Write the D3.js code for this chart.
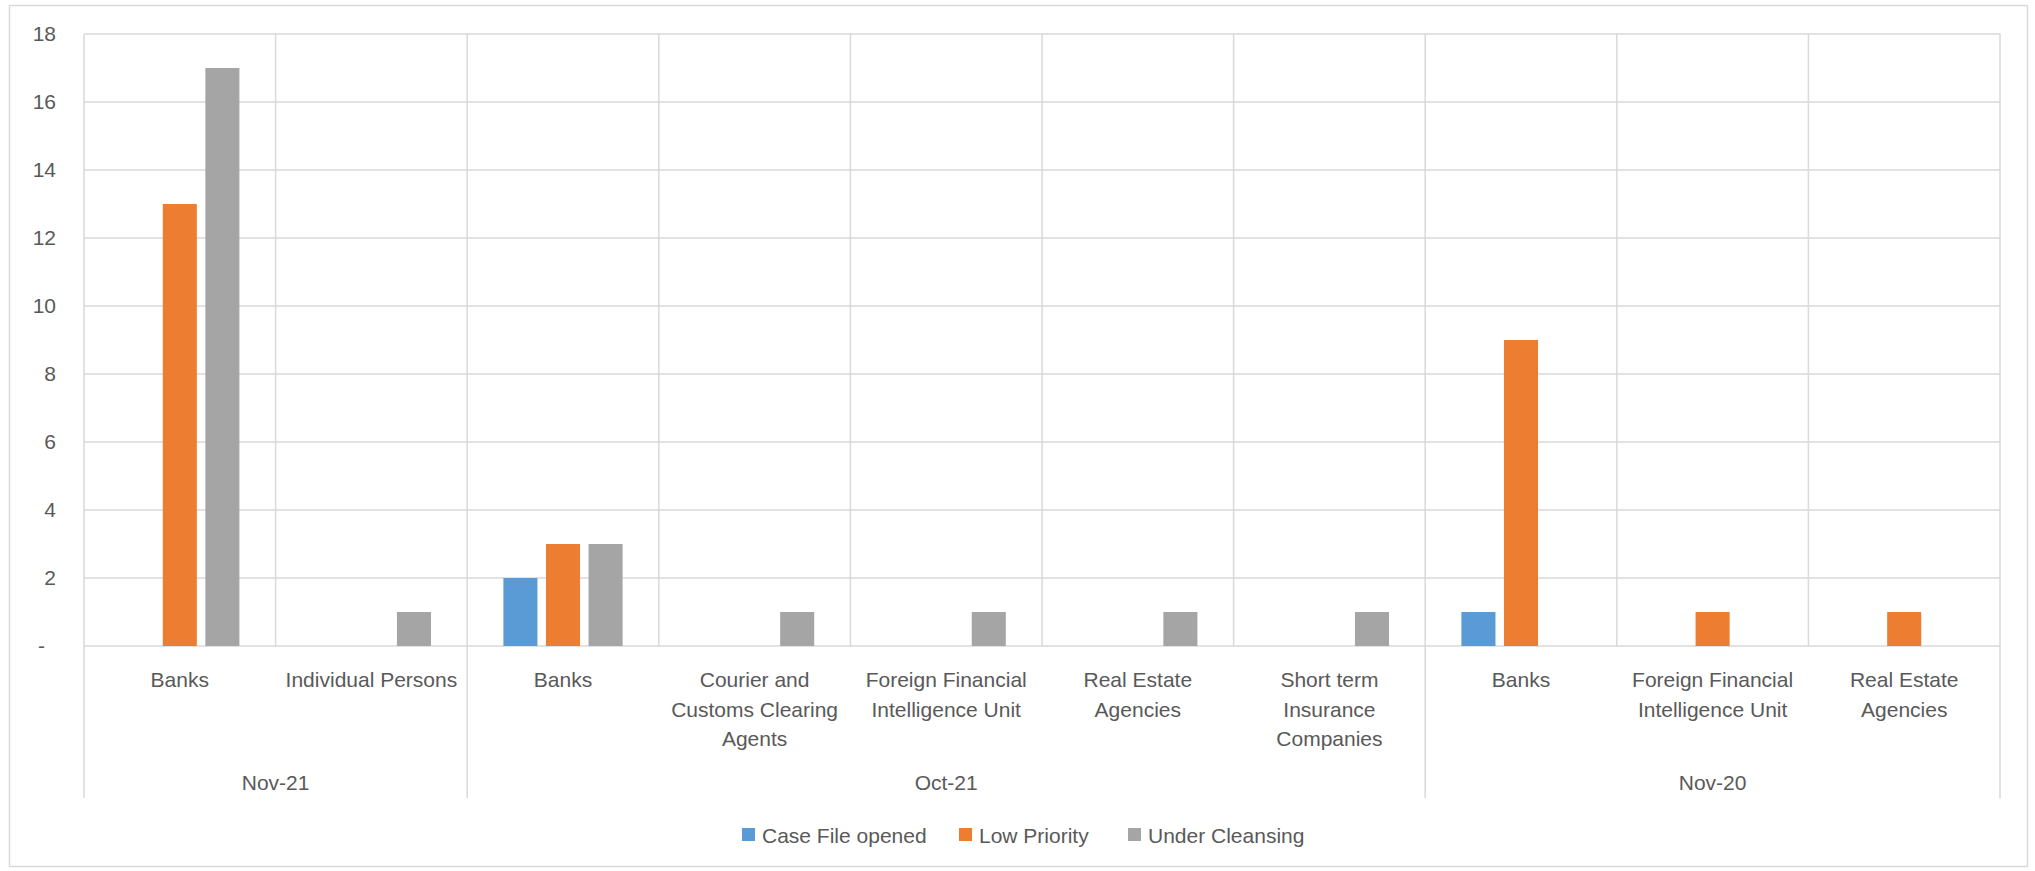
<!DOCTYPE html>
<html>
<head>
<meta charset="utf-8">
<script src="https://cdn.jsdelivr.net/npm/d3@7"></script>
<style>
  body { margin: 0; background: #fff; }
  svg text { font-family: "Liberation Sans", Arial, sans-serif; fill: #595959; }
</style>
</head>
<body>
<svg width="2035" height="871"></svg>
<script>
// data
const groups = ["Nov-21", "Oct-21", "Nov-20"];
const categories = [
  { group: "Nov-21", name: "Banks" },
  { group: "Nov-21", name: "Individual Persons" },
  { group: "Oct-21", name: "Banks" },
  { group: "Oct-21", name: "Courier and Customs Clearing Agents" },
  { group: "Oct-21", name: "Foreign Financial Intelligence Unit" },
  { group: "Oct-21", name: "Real Estate Agencies" },
  { group: "Oct-21", name: "Short term Insurance Companies" },
  { group: "Nov-20", name: "Banks" },
  { group: "Nov-20", name: "Foreign Financial Intelligence Unit" },
  { group: "Nov-20", name: "Real Estate Agencies" }
];
const seriesNames = ["Case File opened", "Low Priority", "Under Cleansing"];
const caseFileOpened = [null, null, 2, null, null, null, null, 1, null, null];
const lowPriority    = [13, null, 3, null, null, null, null, 9, 1, 1];
const underCleansing = [17, 1, 3, 1, 1, 1, 1, null, null, null];
const yTicks = [0, 2, 4, 6, 8, 10, 12, 14, 16, 18];

const seriesValues = [caseFileOpened, lowPriority, underCleansing];
const colors = ["#5b9bd5", "#ed7d31", "#a5a5a5"];

// layout
const margin = { top: 34, left: 84, right: 35, bottom: 225 };
const W = 2035, H = 871;
const plotW = W - margin.left - margin.right;
const plotH = H - margin.top - margin.bottom;
const gridColor = "#d9d9d9";

const svg = d3.select("svg");

// outer border
svg.append("rect")
  .attr("x", 9.5).attr("y", 5.5)
  .attr("width", 2018).attr("height", 861)
  .attr("fill", "none")
  .attr("stroke", gridColor)
  .attr("stroke-width", 1.5);

const g = svg.append("g")
  .attr("transform", `translate(${margin.left},${margin.top})`);

// scales
const x0 = d3.scaleBand()
  .domain(d3.range(categories.length))
  .range([0, plotW]);

const x1 = d3.scaleBand()
  .domain(d3.range(seriesNames.length))
  .range([0, x0.bandwidth()])
  .paddingInner(0.2)
  .paddingOuter(0.85);

const y = d3.scaleLinear()
  .domain([0, 18])
  .range([plotH, 0]);

// horizontal gridlines
g.append("g")
  .selectAll("line")
  .data(yTicks)
  .join("line")
  .attr("x1", 0).attr("x2", plotW)
  .attr("y1", d => y(d)).attr("y2", d => y(d))
  .attr("stroke", gridColor)
  .attr("stroke-width", 1.5);

// vertical gridlines at category boundaries
g.append("g")
  .selectAll("line")
  .data(d3.range(categories.length + 1))
  .join("line")
  .attr("x1", i => i * x0.step()).attr("x2", i => i * x0.step())
  .attr("y1", 0).attr("y2", plotH)
  .attr("stroke", gridColor)
  .attr("stroke-width", 1.5);

// group dividers below the axis
const groupSpans = groups.map(name => {
  const idx = categories.map((c, i) => c.group === name ? i : -1).filter(i => i >= 0);
  return { name, start: d3.min(idx), end: d3.max(idx) + 1 };
});
const dividers = [0].concat(groupSpans.map(s => s.end));
g.append("g")
  .selectAll("line")
  .data(dividers)
  .join("line")
  .attr("x1", i => i * x0.step()).attr("x2", i => i * x0.step())
  .attr("y1", plotH).attr("y2", plotH + 152)
  .attr("stroke", gridColor)
  .attr("stroke-width", 1.5);

// y axis labels
g.append("g")
  .selectAll("text")
  .data(yTicks)
  .join("text")
  .attr("x", d => d === 0 ? -39 : -28)
  .attr("y", d => y(d))
  .attr("dy", "0.35em")
  .attr("text-anchor", "end")
  .style("font-size", "21px")
  .text(d => d === 0 ? "-" : d);

// bars
seriesValues.forEach((vals, s) => {
  g.append("g")
    .selectAll("rect")
    .data(vals.map((v, i) => ({ v, i })).filter(d => d.v != null))
    .join("rect")
    .attr("x", d => x0(d.i) + x1(s))
    .attr("y", d => y(d.v))
    .attr("width", x1.bandwidth())
    .attr("height", d => plotH - y(d.v))
    .attr("fill", colors[s]);
});

// category labels with wrapping
const maxW = 182;
const lineH = 29.5;
const catLabels = g.append("g")
  .selectAll("text")
  .data(categories)
  .join("text")
  .attr("text-anchor", "middle")
  .attr("transform", (d, i) => `translate(${x0(i) + x0.bandwidth() / 2},${plotH + 41})`)
  .style("font-size", "21px");

catLabels.each(function(d) {
  const text = d3.select(this);
  const words = d.name.split(" ");
  let line = [];
  let lineNo = 0;
  let tspan = text.append("tspan").attr("x", 0).attr("y", 0);
  words.forEach(w => {
    line.push(w);
    tspan.text(line.join(" "));
    if (tspan.node().getComputedTextLength() > maxW && line.length > 1) {
      line.pop();
      tspan.text(line.join(" "));
      line = [w];
      lineNo++;
      tspan = text.append("tspan").attr("x", 0).attr("y", lineNo * lineH).text(w);
    }
  });
});

// group labels
g.append("g")
  .selectAll("text")
  .data(groupSpans)
  .join("text")
  .attr("x", d => (d.start + d.end) / 2 * x0.step())
  .attr("y", plotH + 144)
  .attr("text-anchor", "middle")
  .style("font-size", "21px")
  .text(d => d.name);

// legend
const legendX = [742, 959, 1128];
const legend = svg.append("g")
  .selectAll("g")
  .data(seriesNames)
  .join("g")
  .attr("transform", (d, i) => `translate(${legendX[i]},835)`);

legend.append("rect")
  .attr("x", 0).attr("y", -7)
  .attr("width", 13).attr("height", 13)
  .attr("fill", (d, i) => colors[i]);

legend.append("text")
  .attr("x", 20)
  .attr("y", 0)
  .attr("dy", "0.36em")
  .style("font-size", "21px")
  .text(d => d);
</script>
</body>
</html>
